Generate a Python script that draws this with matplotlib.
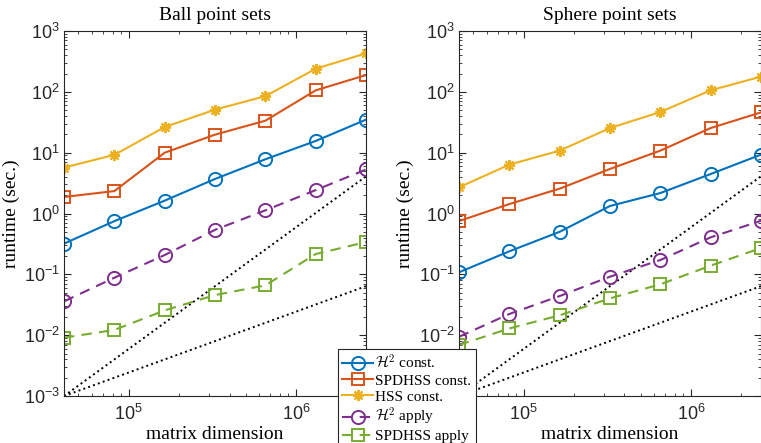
import matplotlib
matplotlib.use("Agg")
import matplotlib.pyplot as plt
import numpy as np
from matplotlib.ticker import LogLocator, FuncFormatter, NullFormatter

plt.rcParams["mathtext.fontset"] = "cm"
plt.rcParams["font.family"] = "Liberation Serif"

# matrix dimensions (doubling)
dims = [40960, 81920, 163840, 327680, 655360, 1310720, 2621440]

ball_h2_const = [0.32, 0.75, 1.63, 3.7, 7.8, 15.6, 35]
ball_spd_const = [1.87, 2.34, 10.0, 19.8, 33.6, 106, 189]
ball_hss_const = [5.7, 9.2, 26.4, 51, 85, 240, 430]
ball_h2_apply = [0.036, 0.088, 0.208, 0.54, 1.13, 2.43, 5.3]
ball_spd_apply = [0.0091, 0.0122, 0.0256, 0.0457, 0.066, 0.216, 0.34]

sphere_h2_const = [0.108, 0.239, 0.50, 1.33, 2.17, 4.46, 9.3]
sphere_spd_const = [0.75, 1.43, 2.56, 5.4, 10.8, 25.4, 46]
sphere_hss_const = [2.69, 6.35, 10.8, 25.4, 46.6, 106, 178]
sphere_h2_apply = [0.0094, 0.0223, 0.044, 0.0916, 0.172, 0.406, 0.76]
sphere_spd_apply = [0.0069, 0.0129, 0.0212, 0.0403, 0.0686, 0.139, 0.271]

# O(N) and O(N^2) reference lines
ref_start = 1e-3

labels = [r"$\mathcal{H}^2$ const.", "SPDHSS const.", "HSS const.",
          r"$\mathcal{H}^2$ apply", "SPDHSS apply"]
titles = ["Ball point sets", "Sphere point sets"]

C_BLUE = (0, 0.447, 0.741)
C_ORANGE = (0.85, 0.325, 0.098)
C_YELLOW = (0.929, 0.694, 0.125)
C_PURPLE = (0.494, 0.184, 0.556)
C_GREEN = (0.466, 0.674, 0.188)

styles = [
    dict(color=C_BLUE, marker="o", ls="-", ms=9.5),
    dict(color=C_ORANGE, marker="s", ls="-", ms=8),
    dict(color=C_YELLOW, marker=(8, 2, 0), ls="-", ms=8),
    dict(color=C_PURPLE, marker="o", ls=(0, (5, 3.5)), ms=9.5),
    dict(color=C_GREEN, marker="s", ls=(0, (5, 3.5)), ms=8),
]

fig = plt.figure(figsize=(7.61, 4.43), dpi=100)
ax1 = fig.add_axes([0.0841, 0.106, 0.397, 0.824])
ax2 = fig.add_axes([0.603, 0.106, 0.397, 0.824])

datasets = [
    [ball_h2_const, ball_spd_const, ball_hss_const, ball_h2_apply, ball_spd_apply],
    [sphere_h2_const, sphere_spd_const, sphere_hss_const, sphere_h2_apply, sphere_spd_apply],
]

x = np.array(dims, dtype=float)
handles = []
for ax, title, series in zip([ax1, ax2], titles, datasets):
    lin = ref_start * x / x[0]
    quad = ref_start * (x / x[0]) ** 2
    ax.plot(x, quad, ls=":", color="black", lw=1.4)
    ax.plot(x, lin, ls=":", color="black", lw=1.4)
    hs = []
    for vals, st, lab in zip(series, styles, labels):
        h, = ax.plot(x, vals, color=st["color"], marker=st["marker"], ls=st["ls"],
                     ms=st["ms"], mfc="none", mew=1.4, lw=1.5, label=lab)
        hs.append(h)
    handles = hs
    ax.set_xscale("log")
    ax.set_yscale("log")
    ax.set_xlim(x[0], x[-1])
    ax.set_ylim(1e-3, 1e3)
    ax.yaxis.set_major_locator(LogLocator(base=10, numticks=20))
    ax.yaxis.set_minor_locator(LogLocator(base=10, subs=np.arange(2, 10), numticks=20))
    ax.xaxis.set_minor_locator(LogLocator(base=10, subs=np.arange(2, 10), numticks=20))
    fmt = FuncFormatter(lambda v, p: r"$\mathregular{10^{%d}}$" % round(np.log10(v)))
    ax.yaxis.set_major_formatter(fmt)
    ax.xaxis.set_major_formatter(fmt)
    ax.yaxis.set_minor_formatter(NullFormatter())
    ax.xaxis.set_minor_formatter(NullFormatter())
    ax.tick_params(which="both", direction="in", top=True, right=True,
                   colors="#262626", labelcolor="#262626")
    ax.tick_params(which="major", length=5, labelsize=13, pad=3)
    ax.tick_params(axis="x", which="major", pad=6)
    ax.tick_params(which="minor", length=2.5)
    for lbl in ax.get_xticklabels() + ax.get_yticklabels():
        lbl.set_fontfamily("Liberation Sans")
    for sp in ax.spines.values():
        sp.set_color("#262626")
        sp.set_linewidth(0.8)
    ax.set_title(title, fontsize=14, pad=8)
    ax.set_xlabel("matrix dimension", fontsize=14, labelpad=1)
    ax.set_ylabel("runtime (sec.)", fontsize=14, labelpad=3)

leg = fig.legend(handles, labels, loc="upper left", bbox_to_anchor=(0.444, 0.212),
                 fontsize=11, frameon=True, fancybox=False, framealpha=1,
                 edgecolor="#262626", borderpad=0.3, labelspacing=0.15,
                 handlelength=2.0, handletextpad=0.15, borderaxespad=0)
leg.get_frame().set_linewidth(0.8)

fig.savefig("out.png", dpi=100)
